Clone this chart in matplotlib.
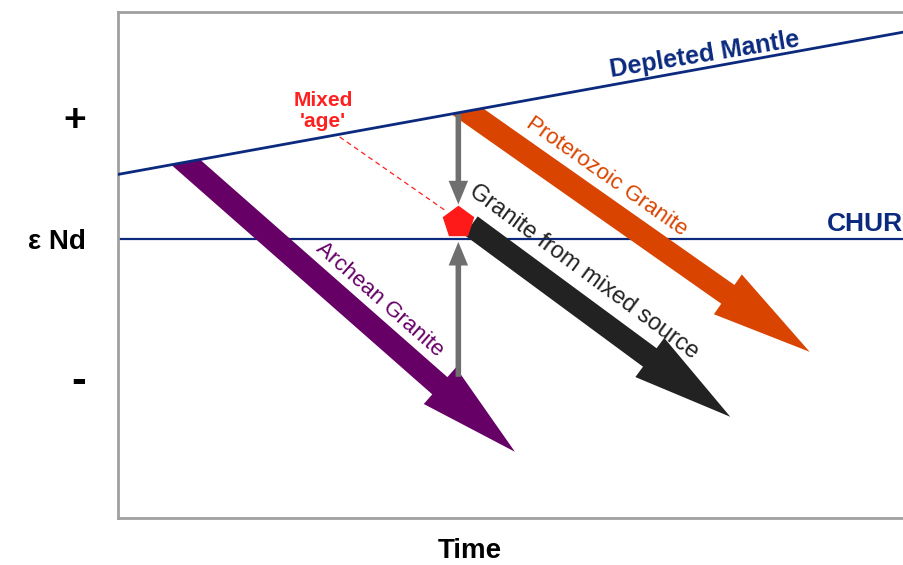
import numpy as np
import matplotlib.pyplot as plt
from matplotlib.patches import Polygon

plt.rcParams['font.family'] = ['Liberation Sans', 'DejaVu Sans']

# axis ranges: time runs 0..10, epsilon Nd is 0 on CHUR
time_lim = [0, 10]
end_lim = [-2.23, 1.82]

# reference reservoirs
mantle_t = [0, 10]
mantle_e = [0.52, 1.66]
chur_e = 0.0

# granite evolution arrows (starts lie a bit above the mantle, clipped there)
arrow_names = ["Archean Granite", "Proterozoic Granite", "Granite from mixed source"]
arrow_start_t = [0.64, 4.23, 4.49]
arrow_start_e = [0.74, 1.12, 0.11]
arrow_end_t = [5.05, 8.80, 7.79]
arrow_end_e = [-1.70, -0.90, -1.42]
arrow_colors = ["#660066", "#d94400", "#222222"]
label_t = [3.33, 6.21, 5.93]
label_e = [-0.48, 0.50, -0.26]
label_sizes = [16, 16, 17]

# mixed source: model age and the two end members
mixed_t = 4.33
mixed_e = 0.14
mix_down = [1.02, 0.28]
mix_up = [-1.10, -0.02]
age_line_t = [2.82, 4.19]
age_line_e = [0.82, 0.22]

ytick_pos = [0.98, 0, -1.1]
ytick_labels = ['+', 'ε Nd', '-']

navy = "#0b2a7e"
grey = "#6f6f6f"


def screen_angle(ax, t0, e0, t1, e1):
    p0, p1 = ax.transData.transform([(t0, e0), (t1, e1)])
    return np.degrees(np.arctan2(p1[1] - p0[1], p1[0] - p0[0]))


fig = plt.figure(figsize=(9.04, 5.65), dpi=100)
ax = fig.add_axes([118 / 904, 47 / 565, 786 / 904, 506 / 565])
ax.set_xlim(time_lim)
ax.set_ylim(end_lim)

for side in ['left', 'bottom', 'top']:
    ax.spines[side].set_color('#a0a0a0')
    ax.spines[side].set_linewidth(2)
ax.spines['right'].set_visible(False)

ax.set_xticks([])
ax.set_yticks(ytick_pos)
ax.set_yticklabels(ytick_labels)
ax.tick_params(axis='y', length=0, pad=23)
for lab, size in zip(ax.get_yticklabels(), [28, 20, 32]):
    lab.set_fontsize(size)
    lab.set_fontweight('bold')

ax.set_xlabel('Time', fontsize=20, fontweight='bold')
ax.xaxis.set_label_coords(0.448, -0.04)

# everything below the depleted mantle line
below_mantle = Polygon([(mantle_t[0], mantle_e[0]), (mantle_t[1], mantle_e[1]),
                        (mantle_t[1], end_lim[0]), (mantle_t[0], end_lim[0])],
                       transform=ax.transData)

# granite arrows
for i in range(len(arrow_names)):
    ann = ax.annotate('', xy=(arrow_end_t[i], arrow_end_e[i]),
                      xytext=(arrow_start_t[i], arrow_start_e[i]),
                      arrowprops=dict(arrowstyle='simple,head_length=72,head_width=35,tail_width=16.5',
                                      mutation_scale=1, color=arrow_colors[i], lw=0,
                                      shrinkA=0, shrinkB=0), zorder=2)
    ann.arrow_patch.set_clip_path(below_mantle)
    ang = screen_angle(ax, arrow_start_t[i], arrow_start_e[i], arrow_end_t[i], arrow_end_e[i])
    ax.text(label_t[i], label_e[i], arrow_names[i], color=arrow_colors[i],
            fontsize=label_sizes[i], rotation=ang, rotation_mode='anchor',
            ha='center', va='center', zorder=4)

# mantle and CHUR lines
ax.plot(mantle_t, mantle_e, color=navy, lw=2, zorder=3)
ax.plot(time_lim, [chur_e, chur_e], color=navy, lw=1.6, zorder=1)

ang = screen_angle(ax, mantle_t[0], mantle_e[0], mantle_t[1], mantle_e[1])
ax.text(7.47, 1.48, 'Depleted Mantle', color=navy, fontsize=18, fontweight='bold',
        rotation=ang - 1, rotation_mode='anchor', ha='center', va='center')
ax.text(9.99, 0.12, 'CHUR', color=navy, fontsize=19, fontweight='bold',
        ha='right', va='center')

# mixing end members
for e0, e1 in [mix_down, mix_up]:
    ax.annotate('', xy=(mixed_t, e1), xytext=(mixed_t, e0),
                arrowprops=dict(arrowstyle='simple,head_length=17,head_width=14,tail_width=4',
                                mutation_scale=1, color=grey, lw=0,
                                shrinkA=0, shrinkB=0), zorder=2)

ax.plot(age_line_t, age_line_e, color='#ff2020', lw=0.9, ls=(0, (4, 3)), zorder=3)
ax.plot([mixed_t], [mixed_e], marker='p', markersize=23, color='#ff1a1a', zorder=5)
ax.text(2.61, 1.03, "Mixed\n'age'", color='#ff2020', fontsize=15, fontweight='bold',
        ha='center', va='center', linespacing=1.15)

fig.savefig('out.png', dpi=100)
